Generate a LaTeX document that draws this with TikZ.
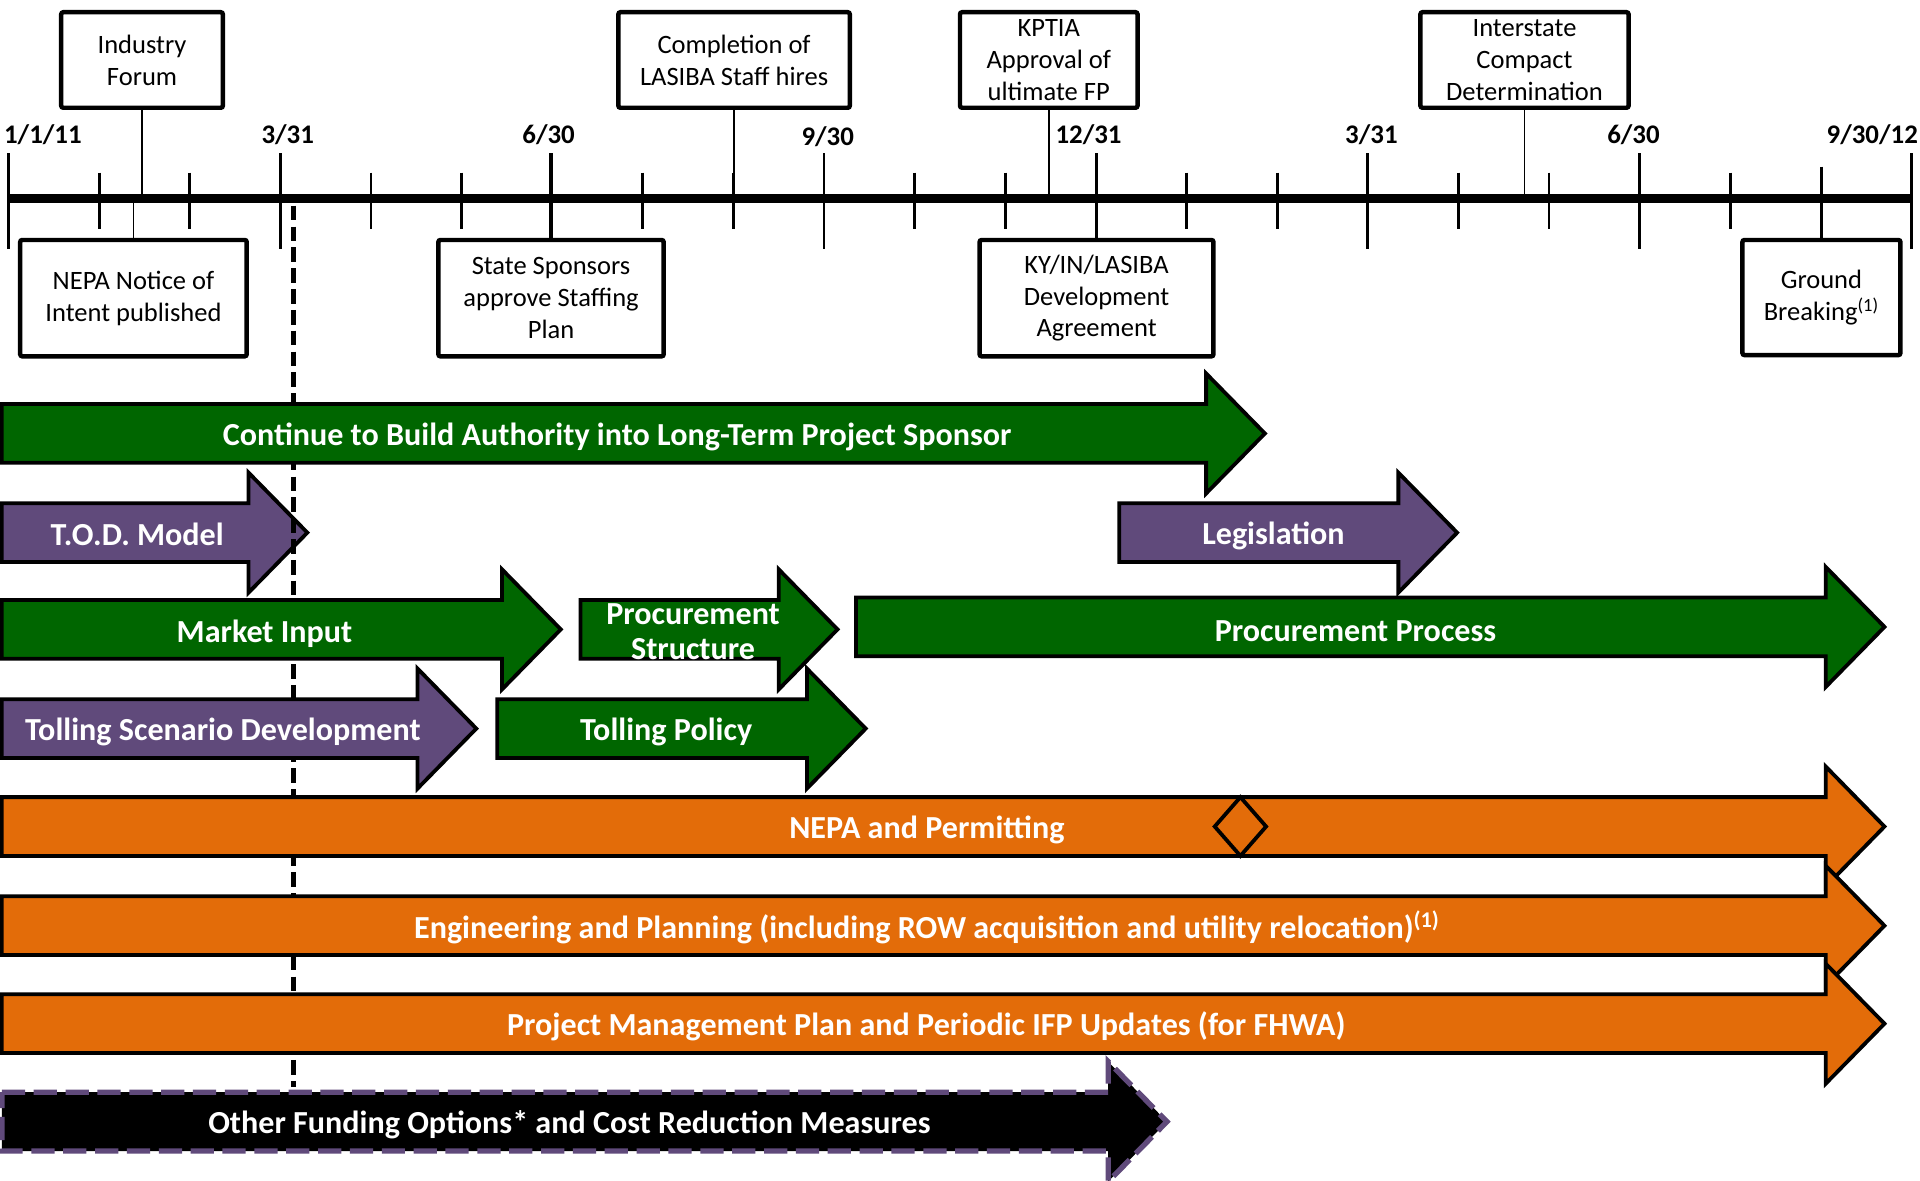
\documentclass[tikz,border=0pt]{standalone}
\usepackage{fontspec}
\setmainfont{Carlito}
\definecolor{dgreen}{HTML}{006600}
\definecolor{purp}{HTML}{604A7B}
\definecolor{orng}{HTML}{E36C09}
\newcommand{\barrow}[4]{\path[#1] (#2,#4-24) -- (#3,#4-24) -- (#3,#4-49) -- (#3+48,#4) -- (#3,#4+49) -- (#3,#4+24) -- (#2,#4+24) -- cycle;}
\begin{document}
\begin{tikzpicture}[x=0.025cm,y=-0.025cm,
  box/.style={draw, line width=2.6pt, rounded corners=1.2pt, inner sep=0pt, align=center,
    font=\fontsize{15.4}{18.5}\selectfont, fill=white},
  sz/.style 2 args={minimum width=#1*0.025cm, minimum height=#2*0.025cm},
  date/.style={font=\fontsize{15.6}{18}\selectfont\bfseries, inner sep=0pt},
  conn/.style={line width=1.1pt},
  majtick/.style={line width=2.2pt},
  mintick/.style={line width=1.6pt},
  bar/.style={draw=black, line width=2.2pt, line join=miter},
  lbl/.style={text=white, font=\fontsize{18.65}{20}\selectfont\bfseries, inner sep=0pt, align=center},
]
\useasboundingbox (0,0) rectangle (1568,964);
% axis
\coordinate (axL) at (7,162);
\coordinate (axR) at (1561,162);
\draw[line width=5pt] (axL) -- (axR);
\foreach \m in {1,2,4,5,7,8,10,11,13,14,16,17,19}
  \draw[mintick] (7+74*\m,141) -- (7+74*\m,187);
\foreach \m in {3,9,15}
  \draw[mintick] (7+74*\m,125) -- (7+74*\m,203);
\foreach \m in {0,18,21}
  \draw[majtick] (7+74*\m,125) -- (7+74*\m,203);
% dates
\node[date] (d0) at (35,110) {1/1/11};
\node[date] (d3) at (235,110) {3/31};
\node[date] (d6) at (448,110) {6/30};
\node[date] (d9) at (676,112) {9/30};
\node[date] (d12) at (889,110) {12/31};
\node[date] (d15) at (1120,110) {3/31};
\node[date] (d18) at (1334,110) {6/30};
\node[date] (d21) at (1529,110) {9/30/12};
% boxes above
\node[box, sz={132}{78}] (IF) at (116,49) {Industry\\Forum};
\node[box, sz={189}{78}] (CL) at (599.5,49) {Completion of\\LASIBA Staff hires};
\node[box, sz={145}{78}] (KP) at (856.5,49) {KPTIA\\Approval of\\ultimate FP};
\node[box, sz={170}{78}] (IC) at (1245,49) {Interstate\\Compact\\Determination};
% boxes below
\node[box, sz={185}{95}] (NoI) at (109,243.5) {NEPA Notice of\\Intent published};
\node[box, sz={184}{95}] (SS) at (450,243.5) {State Sponsors\\approve Staffing\\Plan};
\node[box, sz={191}{95}] (KY) at (895.5,243.5) {KY/IN/LASIBA\\Development\\Agreement};
\node[box, sz={129}{94}] (GB) at (1487.5,243) {Ground\\Breaking\textsuperscript{(1)}};
% connectors
\coordinate (aIF) at (116,162);
\coordinate (aCL) at (599.5,162);
\coordinate (aKP) at (856.5,162);
\coordinate (aIC) at (1245,162);
\coordinate (aNoI) at (109,162);
\coordinate (aSS) at (450,125);
\coordinate (aKY) at (895.5,125);
\coordinate (aGB) at (1487.5,136);
\draw[conn] (IF.south) -- (aIF);
\draw[conn] (CL.south) -- (aCL);
\draw[conn] (KP.south) -- (aKP);
\draw[conn] (IC.south) -- (aIC);
\draw[conn] (aNoI) -- (NoI.north);
\draw[majtick] (aSS) -- (SS.north);
\draw[majtick] (aKY) -- (KY.north);
\draw[mintick] (aGB) -- (GB.north);
% bars
\barrow{bar, fill=purp}{1.5}{203}{435}
\draw[line width=2.6pt, dash pattern=on 8.5pt off 3.6pt] (239.5,168) -- (239.5,888);
\barrow{bar, fill=dgreen}{1.5}{985}{354}
\barrow{bar, fill=purp}{914}{1142}{435}
\barrow{bar, fill=dgreen}{1.5}{410}{514}
\barrow{bar, fill=dgreen}{474}{636}{514}
\barrow{bar, fill=dgreen}{699}{1491}{512}
\barrow{bar, fill=purp}{1.5}{341}{595}
\barrow{bar, fill=dgreen}{406}{659}{595}
\barrow{bar, fill=orng}{1.5}{1491}{675}
\barrow{bar, fill=orng}{1.5}{1491}{756}
\barrow{bar, fill=orng}{1.5}{1491}{836}
\barrow{draw=purp, fill=black, line width=3.1pt, line join=miter, dash pattern=on 13.5pt off 5pt}{1.5}{905}{916}
\draw[line width=2.2pt] (1013,651) -- (1034,675) -- (1013,699) -- (992,675) -- cycle;
% labels
\node[lbl] (tCont) at (504,356.5) {Continue to Build Authority into Long-Term Project Sponsor};
\node[lbl] (tTOD) at (112,436.5) {T.O.D. Model};
\node[lbl] (tLeg) at (1040,437.5) {Legislation};
\node[lbl] (tMI) at (216,517.5) {Market Input};
\node[lbl] (tPS) at (566,516) {Procurement\\Structure};
\node[lbl] (tPP) at (1107,515.5) {Procurement Process};
\node[lbl] (tTS) at (182,597.5) {Tolling Scenario Development};
\node[lbl] (tTP) at (544,597.5) {Tolling Policy};
\node[lbl] (tNEPA) at (757,677.5) {NEPA and Permitting};
\node[lbl] (tEng) at (757,757.5) {Engineering and Planning (including ROW acquisition and utility relocation)\textsuperscript{(1)}};
\node[lbl] (tPM) at (756.5,838.5) {Project Management Plan and Periodic IFP Updates (for FHWA)};
\node[lbl] (tOF) at (465,918.5) {Other Funding Options* and Cost Reduction Measures};
\end{tikzpicture}
\end{document}
